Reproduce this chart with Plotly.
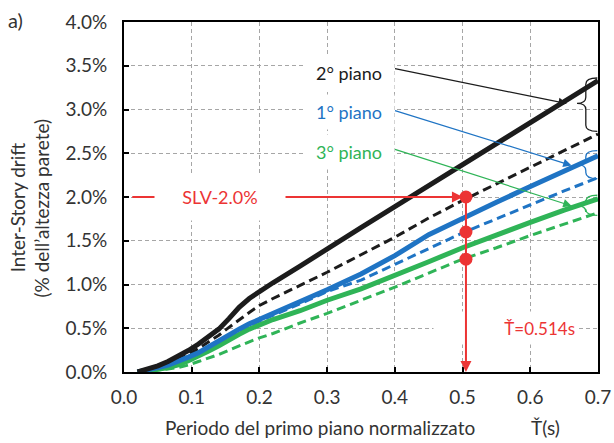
import plotly.graph_objects as go

# ---- data ----
T = [0.02, 0.035, 0.05, 0.065, 0.08, 0.095, 0.11, 0.125, 0.14, 0.155, 0.17, 0.185, 0.20, 0.22, 0.26, 0.30, 0.35, 0.40, 0.45, 0.50, 0.55, 0.60, 0.65, 0.70]
piano2_solid = [0.00, 0.03, 0.07, 0.12, 0.18, 0.245, 0.32, 0.40, 0.49, 0.61, 0.74, 0.84, 0.92, 1.02, 1.21, 1.41, 1.65, 1.89, 2.13, 2.37, 2.61, 2.85, 3.09, 3.33]
piano2_dash  = [0.00, 0.02, 0.05, 0.09, 0.14, 0.20, 0.27, 0.345, 0.42, 0.51, 0.60, 0.68, 0.76, 0.84, 0.99, 1.14, 1.34, 1.54, 1.76, 1.96, 2.15, 2.34, 2.53, 2.72]
piano1_solid = [0.00, 0.02, 0.05, 0.08, 0.12, 0.17, 0.22, 0.29, 0.36, 0.43, 0.49, 0.55, 0.60, 0.66, 0.80, 0.94, 1.12, 1.33, 1.57, 1.76, 1.94, 2.12, 2.30, 2.47]
piano1_dash  = [0.00, 0.02, 0.04, 0.07, 0.11, 0.16, 0.21, 0.275, 0.34, 0.41, 0.47, 0.53, 0.58, 0.64, 0.78, 0.92, 1.05, 1.23, 1.41, 1.59, 1.75, 1.91, 2.07, 2.22]
piano3_solid = [0.00, 0.01, 0.03, 0.05, 0.08, 0.13, 0.18, 0.24, 0.30, 0.37, 0.43, 0.49, 0.54, 0.60, 0.70, 0.82, 0.95, 1.10, 1.26, 1.42, 1.57, 1.71, 1.85, 1.98]
piano3_dash  = [0.00, 0.01, 0.02, 0.035, 0.05, 0.08, 0.12, 0.16, 0.20, 0.25, 0.30, 0.345, 0.39, 0.44, 0.56, 0.67, 0.82, 0.97, 1.13, 1.29, 1.42, 1.56, 1.69, 1.82]

T_slv = 0.505
slv_points = [2.00, 1.60, 1.29]
slv_level = 2.0

x_ticks = [0.0, 0.1, 0.2, 0.3, 0.4, 0.5, 0.6, 0.7]
x_ticktext = ["0.0", "0.1", "0.2", "0.3", "0.4", "0.5", "0.6", "0.7"]
y_ticks = [0.0, 0.5, 1.0, 1.5, 2.0, 2.5, 3.0, 3.5, 4.0]
y_ticktext = ["0.0%", "0.5%", "1.0%", "1.5%", "2.0%", "2.5%", "3.0%", "3.5%", "4.0%"]

BLACK = "#1c1c1c"
BLUE = "#1f74c4"
GREEN = "#2fb457"
RED = "#ec3434"
TXT = "#333333"
FONT = "Lato"

fig = go.Figure()

def add_line(y, color, dashed):
    fig.add_trace(go.Scatter(
        x=T, y=y, mode="lines", showlegend=False, hoverinfo="skip",
        line=dict(color=color, width=3 if dashed else 5,
                  dash="9px,5px" if dashed else "solid",
                  shape="linear")))

add_line(piano3_dash, GREEN, True)
add_line(piano1_dash, BLUE, True)
add_line(piano2_dash, BLACK, True)
add_line(piano3_solid, GREEN, False)
add_line(piano1_solid, BLUE, False)
add_line(piano2_solid, BLACK, False)

fig.add_trace(go.Scatter(
    x=[T_slv] * len(slv_points), y=slv_points, mode="markers",
    marker=dict(color=RED, size=13), showlegend=False, hoverinfo="skip"))

# braces
def brace(ytop, ybot, ymid, color):
    xr, xm, xt = 0.699, 0.682, 0.669
    d = 0.07
    p = (f"M {xr},{ytop} Q {xm},{ytop} {xm},{ytop-d} "
         f"L {xm},{ymid+d} Q {xm},{ymid} {xt},{ymid} "
         f"Q {xm},{ymid} {xm},{ymid-d} "
         f"L {xm},{ybot+d} Q {xm},{ybot} {xr},{ybot}")
    return dict(type="path", xref="x", yref="y", path=p,
                line=dict(color=color, width=1.3))

fig.update_layout(shapes=[
    brace(3.36, 2.75, 3.07, BLACK),
    brace(2.53, 2.21, 2.37, BLUE),
    brace(2.02, 1.79, 1.90, GREEN),
])

ann = []
ann.append(dict(x=T_slv, y=slv_level, ax=0.01, ay=slv_level, xref="x", yref="y",
                axref="x", ayref="y", text="", showarrow=True, arrowhead=2,
                arrowsize=1.1, arrowwidth=2, arrowcolor=RED, standoff=3))
ann.append(dict(x=0.142, y=slv_level, xref="x", yref="y", text="SLV-2.0%",
                showarrow=False, bgcolor="white", width=128, height=44,
                xanchor="center", yanchor="middle",
                font=dict(family=FONT, size=18, color=RED)))
ann.append(dict(x=0.563, y=0.5, xref="x", yref="y", text="Ť=0.514s",
                showarrow=False, bgcolor="white", width=140, height=30,
                xanchor="center", yanchor="middle",
                align="right", font=dict(family=FONT, size=17, color=RED)))
ann.append(dict(x=T_slv, y=0.0, ax=T_slv, ay=slv_level, xref="x", yref="y",
                axref="x", ayref="y", text="", showarrow=True, arrowhead=2,
                arrowsize=1.1, arrowwidth=2, arrowcolor=RED, standoff=0))

labels = [("2° piano", 3.417, BLACK, 0.654, 3.068, 3.47),
          ("1° piano", 2.97, BLUE, 0.661, 2.36, 2.993),
          ("3° piano", 2.52, GREEN, 0.661, 1.898, 2.55)]
for txt, yl, col, xe, ye, ys in labels:
    ann.append(dict(x=0.333, y=yl, xref="x", yref="y", text=txt, showarrow=False,
                    bgcolor="white", width=88, height=32,
                    xanchor="center", yanchor="middle",
                    font=dict(family=FONT, size=18, color=col)))
    ann.append(dict(x=xe, y=ye, ax=0.398, ay=ys, xref="x", yref="y",
                    axref="x", ayref="y", text="", showarrow=True, arrowhead=2,
                    arrowsize=1.4, arrowwidth=1.2, arrowcolor=col, standoff=0))

ann.append(dict(x=0.2895, y=-0.158, xref="x", yref="paper",
                text="Periodo del primo piano normalizzato", showarrow=False,
                xanchor="center", yanchor="middle",
                font=dict(family=FONT, size=19, color=TXT)))
ann.append(dict(x=0.623, y=-0.158, xref="x", yref="paper", text="Ť(s)",
                showarrow=False, xanchor="center", yanchor="middle",
                font=dict(family=FONT, size=19, color=TXT)))
ann.append(dict(x=-0.224, y=0.47, xref="paper", yref="paper",
                text="Inter-Story drift", textangle=-90, showarrow=False,
                xanchor="center", yanchor="middle",
                font=dict(family=FONT, size=19, color=TXT)))
ann.append(dict(x=-0.173, y=0.47, xref="paper", yref="paper",
                text="(% dell’altezza parete)", textangle=-90, showarrow=False,
                xanchor="center", yanchor="middle",
                font=dict(family=FONT, size=19, color=TXT)))
ann.append(dict(x=-0.228, y=1.005, xref="paper", yref="paper", text="a)",
                showarrow=False, xanchor="center", yanchor="middle",
                font=dict(family=FONT, size=20, color=TXT)))

axis_common = dict(showgrid=True, gridcolor="#a6a6a6", griddash="4px,3px", gridwidth=1,
                   showline=True, linecolor="black", linewidth=2, mirror=True,
                   ticks="inside", ticklen=5, tickcolor="black", tickwidth=1.5,
                   tickfont=dict(family=FONT, size=19, color=TXT),
                   zeroline=False, automargin=False)

fig.update_layout(
    template="none",
    annotations=ann,
    width=614, height=443,
    margin=dict(l=124, r=16, t=22, b=71),
    paper_bgcolor="white", plot_bgcolor="white",
    font=dict(family=FONT, color=TXT),
    xaxis=dict(range=[0, 0.7], tickvals=x_ticks, ticktext=x_ticktext,
               ticklabelstandoff=7, **axis_common),
    yaxis=dict(range=[0, 4.0], tickvals=y_ticks, ticktext=y_ticktext,
               ticklabelstandoff=11, **axis_common),
)

fig.write_html("out.html", config={"displayModeBar": False},
               post_script="document.body.style.margin='0';")
